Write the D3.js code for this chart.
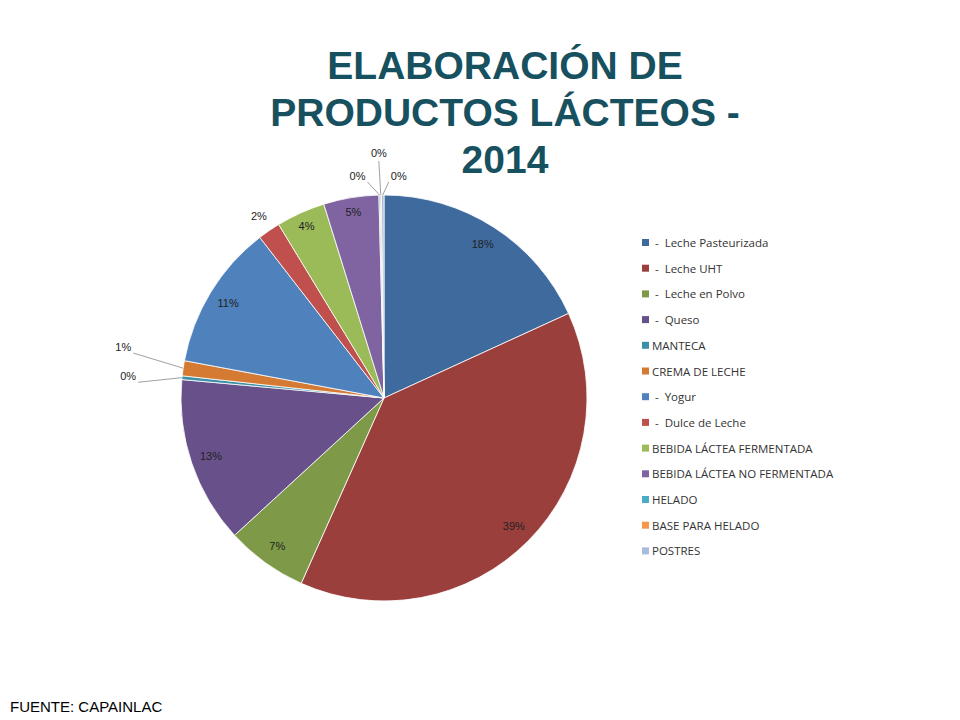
<!DOCTYPE html>
<html><head><meta charset="utf-8">
<script src="https://cdn.jsdelivr.net/npm/d3@7"></script>
<style>body{margin:0;background:#fff}</style></head>
<body><svg id="c" width="960" height="720"></svg>
<script>
const categories = [" -  Leche Pasteurizada"," -  Leche UHT"," -  Leche en Polvo"," -  Queso","MANTECA","CREMA DE LECHE"," -  Yogur"," -  Dulce de Leche","BEBIDA LÁCTEA FERMENTADA","BEBIDA LÁCTEA NO FERMENTADA","HELADO","BASE PARA HELADO","POSTRES"];
const values = [18.2,38.6,6.5,13.3,0.3,1.2,11.6,1.8,3.9,4.4,0.1,0.1,0.2];
const labels = ["18%","39%","7%","13%","0%","1%","11%","2%","4%","5%","0%","0%","0%"];
const colors = ["#3F6A9E","#9B3F3C","#7E9A48","#68508A","#3B8FA6","#D47A33","#4F81BD","#C0504D","#9BBB59","#8064A2","#4BACC6","#F79646","#A9BCDB"];
const titleLines = ["ELABORACIÓN  DE","PRODUCTOS LÁCTEOS -","2014"];

const svg = d3.select("#c");
const cx=384, cy=398, R=203;
const pie = d3.pie().sort(null).value(d=>d)(values);
const arc = d3.arc().innerRadius(0).outerRadius(R);
const g = svg.append("g").attr("transform",`translate(${cx},${cy})`);
g.selectAll("path").data(pie).join("path").attr("d",arc)
 .attr("fill",(d,i)=>colors[i]).attr("stroke","#fff").attr("stroke-width",0.8);

const outside = {4:{dx:-40,dy:0,r:R+14},5:{dx:-52,dy:-20,r:R+8},7:{dx:0,dy:0,r:R+18},10:{dx:-22,dy:-19,r:R},11:{dx:-2,dy:-42,r:R},12:{dx:16,dy:-19,r:R}};
pie.forEach((d,i)=>{
  const a=(d.startAngle+d.endAngle)/2;
  const ux=Math.sin(a), uy=-Math.cos(a);
  let x,y;
  if(outside[i]){
    const o=outside[i];
    const ex=ux*R, ey=uy*R;
    x=ux*o.r+o.dx; y=uy*o.r+o.dy;
    if(o.dx||o.dy){
      const lx = x+(o.dx<-5?10:(o.dx>5?-10:0));
      const ly = y+(Math.abs(o.dx)>5?6:8);
      g.append("polyline").attr("points",`${ex},${ey} ${lx},${ly}`)
       .attr("fill","none").attr("stroke","#888").attr("stroke-width",0.8);
    }
  } else {
    const r = i===7||i===8||i===9 ? R*0.93 : R*0.9;
    x=ux*r; y=uy*r;
  }
  g.append("text").attr("x",x).attr("y",y).attr("dy","0.35em").attr("text-anchor","middle")
   .attr("font-family","Liberation Sans, Arial").attr("font-size",11).attr("fill","#222").text(labels[i]);
});

svg.selectAll("text.t").data(titleLines).join("text").attr("class","t")
 .attr("x",505).attr("y",(d,i)=>79+i*47).attr("text-anchor","middle")
 .attr("font-family","Liberation Sans, Arial").attr("font-weight","bold").attr("font-size",39)
 .attr("fill","#17505E").text(d=>d);

const lg = svg.append("g");
categories.forEach((c,i)=>{
  const y=243+i*25.7;
  lg.append("rect").attr("x",642).attr("y",y-4).attr("width",7).attr("height",7).attr("fill",colors[i]);
  lg.append("text").attr("x",652).attr("y",y).attr("dy","0.35em").attr("font-family","Open Sans, Liberation Sans")
   .attr("font-size",11.5).attr("fill","#333").style("white-space","pre").text(c);
});

svg.append("text").attr("x",10).attr("y",712).attr("font-family","Liberation Sans, Arial").attr("font-size",15)
 .attr("fill","#000").text("FUENTE: CAPAINLAC");
</script></body></html>
